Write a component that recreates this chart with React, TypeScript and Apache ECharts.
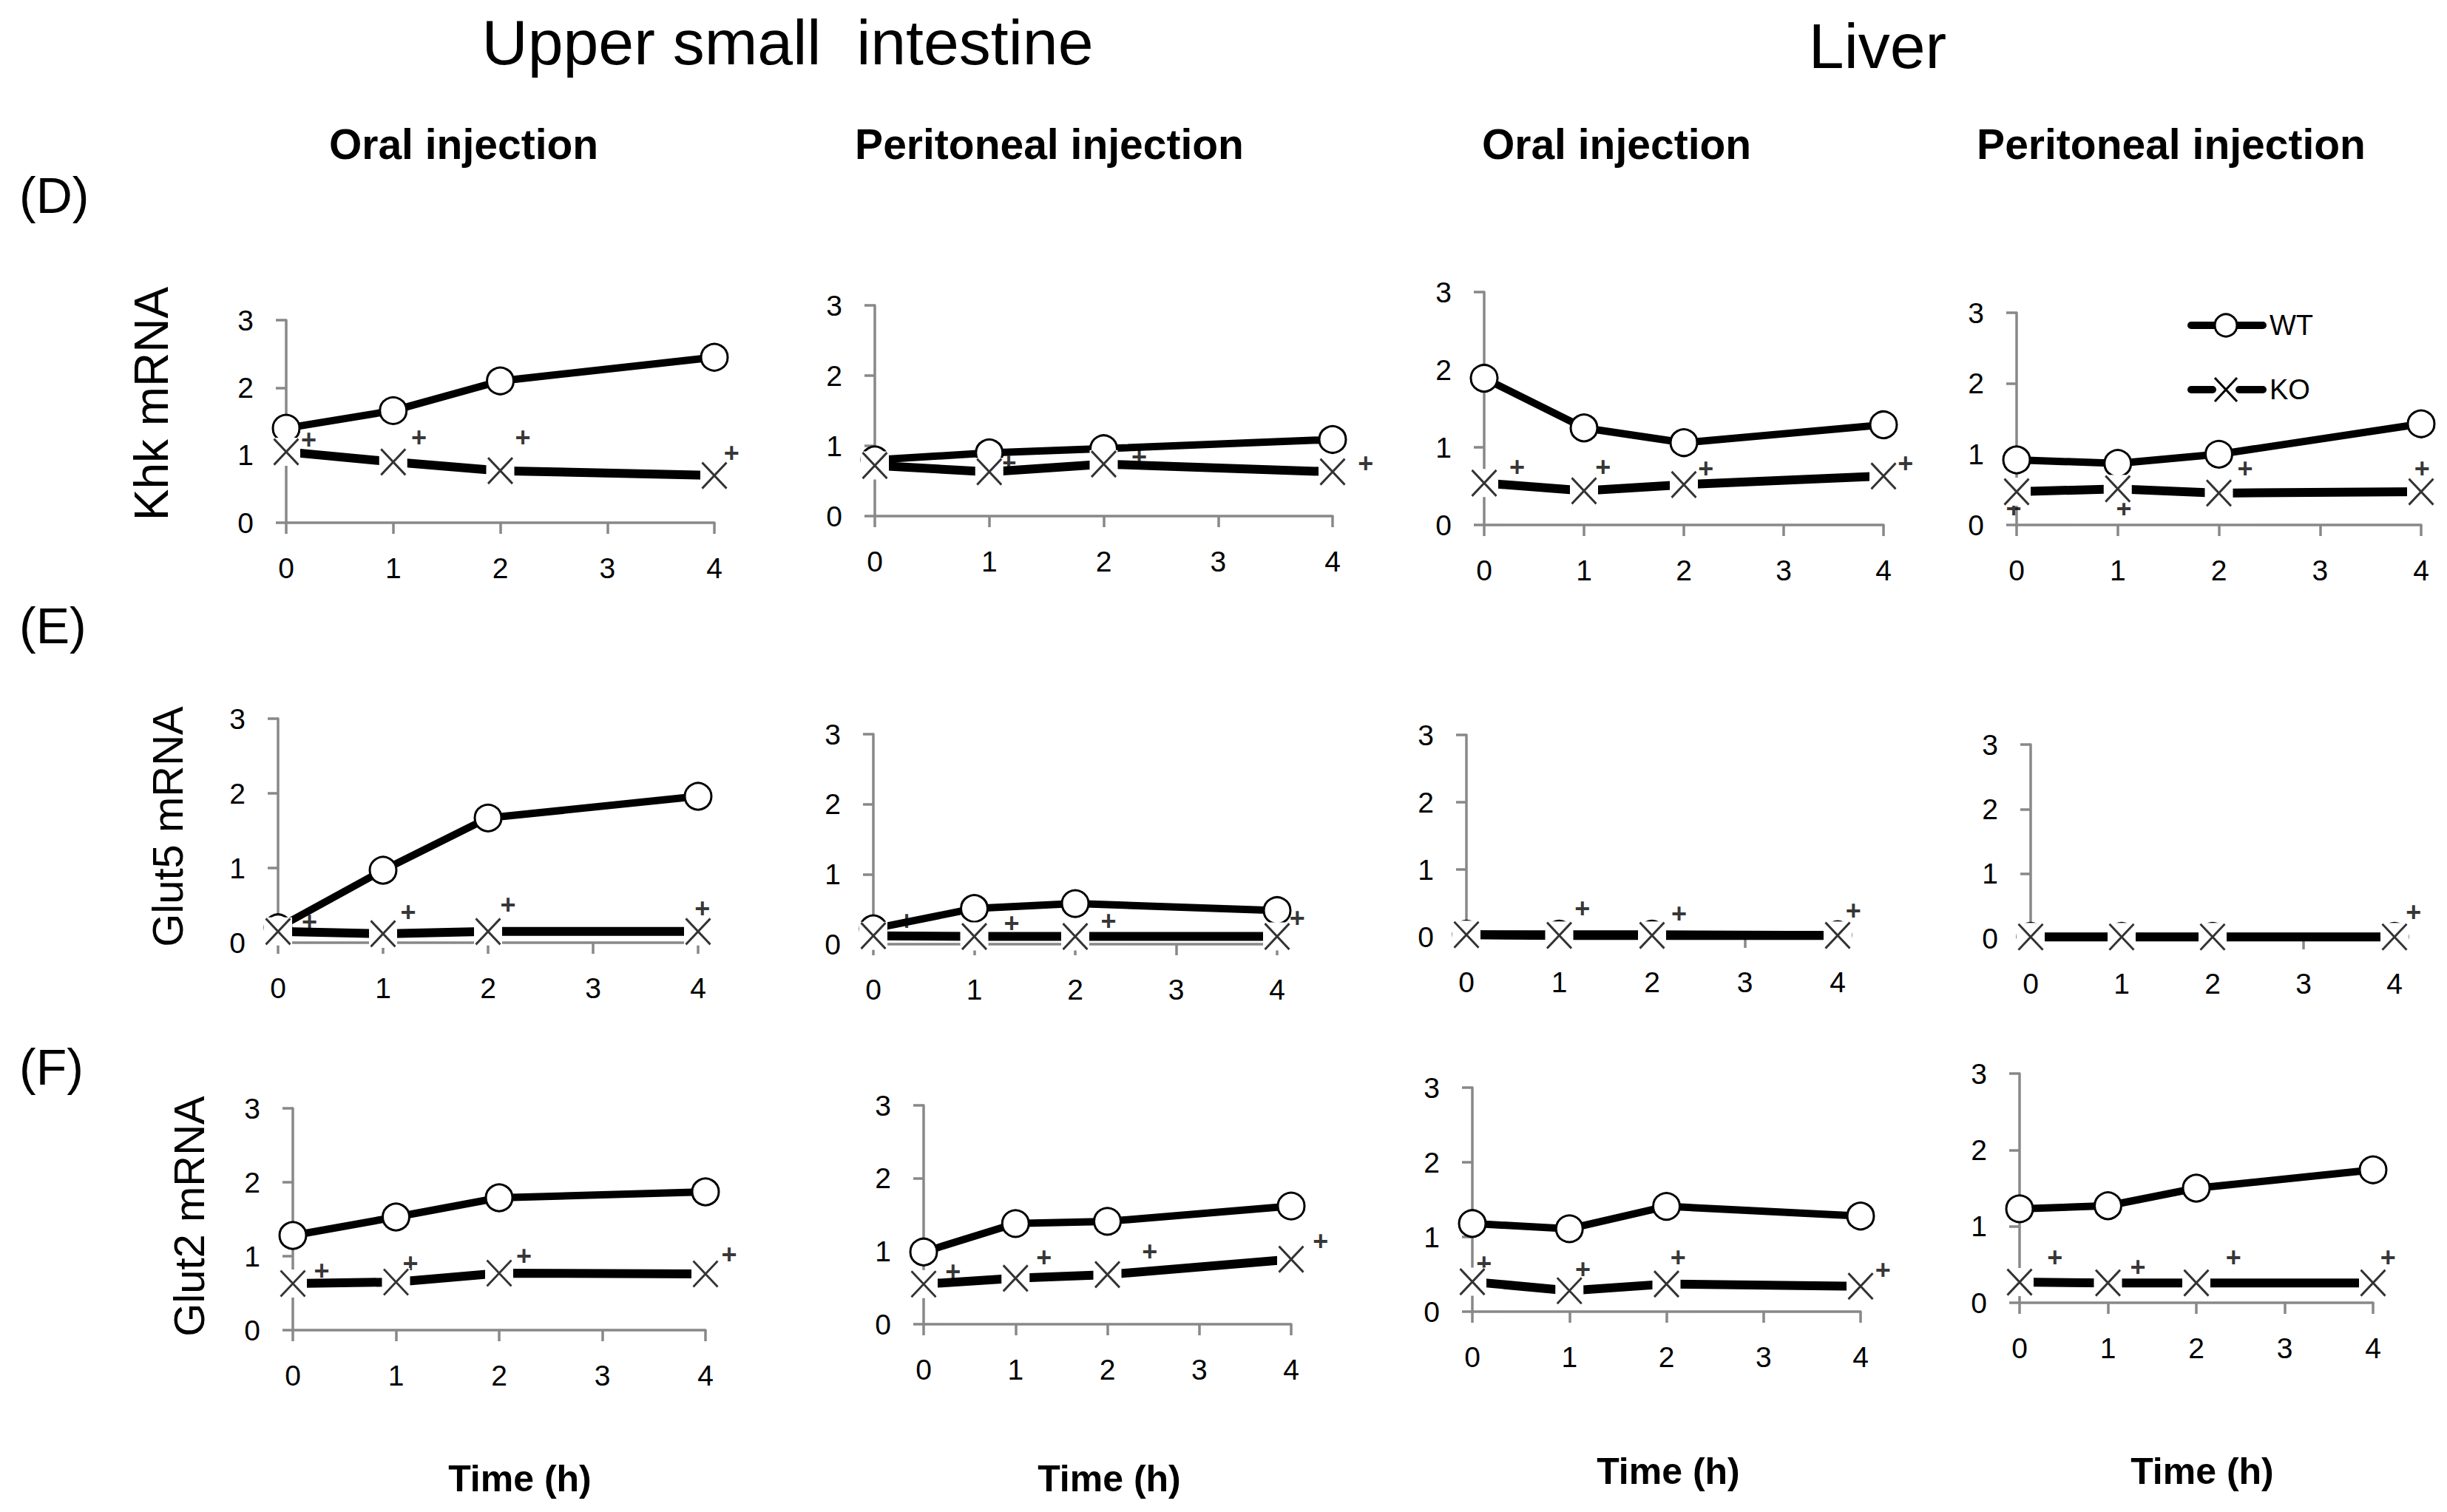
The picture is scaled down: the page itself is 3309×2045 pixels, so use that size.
import React, { useEffect, useRef } from "react";
import * as echarts from "echarts";

// ---------------- data ----------------
const TIMES = [0, 1, 2, 4];
const TISSUES = ["Upper small  intestine", "Liver"];
const ROUTES = ["Oral injection", "Peritoneal injection", "Oral injection", "Peritoneal injection"];
const ROW_LABELS = ["(D)", "(E)", "(F)"];
const GENE_NAMES = ["Khk mRNA", "Glut5 mRNA", "Glut2 mRNA"];
const X_NAME = "Time (h)";
const LEGEND_NAMES = ["WT", "KO"];

// panels order: intestine oral, intestine peritoneal, liver oral, liver peritoneal
const khkWT = [[1.40, 1.66, 2.10, 2.45], [0.80, 0.90, 0.96, 1.09], [1.89, 1.25, 1.06, 1.29], [0.92, 0.87, 1.00, 1.43]];
const khkKO = [[1.05, 0.90, 0.77, 0.70], [0.72, 0.63, 0.74, 0.63], [0.54, 0.44, 0.52, 0.63], [0.47, 0.51, 0.45, 0.47]];
const khkPlus = [
  [[0.21, 1.23], [1.24, 1.26], [2.21, 1.26], [4.16, 1.04]],
  [[1.17, 0.76], [2.31, 0.85], [4.29, 0.75]],
  [[0.33, 0.75], [1.19, 0.75], [2.22, 0.73], [4.22, 0.80]],
  [[-0.03, 0.23], [1.06, 0.24], [2.26, 0.80], [4.01, 0.80]],
];

const glut5WT = [[0.20, 0.97, 1.67, 1.96], [0.22, 0.51, 0.58, 0.48], [0.04, 0.04, 0.04, 0.03], [0.03, 0.03, 0.03, 0.03]];
const glut5KO = [[0.15, 0.12, 0.15, 0.15], [0.12, 0.11, 0.11, 0.11], [0.03, 0.02, 0.02, 0.02], [0.02, 0.02, 0.02, 0.02]];
const glut5Plus = [
  [[0.30, 0.28], [1.24, 0.41], [2.19, 0.51], [4.04, 0.46]],
  [[0.33, 0.33], [1.37, 0.30], [2.33, 0.33], [4.20, 0.37]],
  [[1.25, 0.42], [2.29, 0.35], [4.17, 0.39]],
  [[4.21, 0.41]],
];

const glut2WT = [[1.28, 1.53, 1.79, 1.87], [0.99, 1.38, 1.41, 1.62], [1.18, 1.11, 1.41, 1.28], [1.23, 1.27, 1.50, 1.74]];
const glut2KO = [[0.63, 0.65, 0.77, 0.76], [0.55, 0.63, 0.68, 0.89], [0.40, 0.28, 0.37, 0.34], [0.27, 0.26, 0.26, 0.26]];
const glut2Plus = [
  [[0.28, 0.81], [1.14, 0.91], [2.24, 1.01], [4.23, 1.03]],
  [[0.32, 0.72], [1.31, 0.92], [2.46, 1.00], [4.32, 1.14]],
  [[0.12, 0.65], [1.14, 0.57], [2.12, 0.73], [4.23, 0.56]],
  [[0.40, 0.60], [1.34, 0.47], [2.42, 0.60], [4.17, 0.60]],
];

const ROWS_WT = [khkWT, glut5WT, glut2WT];
const ROWS_KO = [khkKO, glut5KO, glut2KO];
const ROWS_PLUS = [khkPlus, glut5Plus, glut2Plus];

// ---------------- layout (pixels) ----------------
// [x of t=0, x of t=4, y of value 3, y of value 0]
const PANEL_BOX = [
  [[387, 966, 433, 707], [1183, 1802, 413, 698], [2007, 2547, 395, 710], [2727, 3274, 423, 710]],
  [[376, 944, 972, 1275], [1181, 1727, 993, 1277], [1983, 2485, 994, 1267], [2746, 3238, 1007, 1269]],
  [[396, 954, 1499, 1799], [1249, 1746, 1495, 1791], [1991, 2516, 1471, 1774], [2731, 3209, 1452, 1762]],
];

const FONT = "'Liberation Sans', Arial, sans-serif";
const AXIS_GRAY = "#888888";
const X_PATH = "path://M0,0L10,10M10,0L0,10";

function buildOption() {
  const grid: any[] = [];
  const xAxis: any[] = [];
  const yAxis: any[] = [];
  const series: any[] = [];
  let idx = 0;
  for (let r = 0; r < 3; r++) {
    for (let c = 0; c < 4; c++) {
      const [x0, x4, y3, y0] = PANEL_BOX[r][c];
      grid.push({ left: x0, top: y3, width: x4 - x0, height: y0 - y3 });
      const lineStyle = { color: AXIS_GRAY, width: 3.5 };
      xAxis.push({
        type: "value", gridIndex: idx, min: 0, max: 4, interval: 1,
        axisLine: { show: true, onZero: false, lineStyle },
        axisTick: { show: true, length: 15, lineStyle },
        splitLine: { show: false },
        axisLabel: { show: true, margin: 42, fontSize: 39, color: "#000", fontFamily: FONT },
      });
      yAxis.push({
        type: "value", gridIndex: idx, min: 0, max: 3, interval: 1,
        axisLine: { show: true, onZero: false, lineStyle },
        axisTick: { show: true, length: 14, lineStyle },
        splitLine: { show: false },
        axisLabel: { show: true, margin: 44, fontSize: 39, color: "#000", fontFamily: FONT },
      });
      const wt = ROWS_WT[r][c].map((v, i) => [TIMES[i], v]);
      const ko = ROWS_KO[r][c].map((v, i) => [TIMES[i], v]);
      series.push({
        type: "scatter", xAxisIndex: idx, yAxisIndex: idx, z: 1, clip: false,
        data: ROWS_PLUS[r][c], symbol: "circle", symbolSize: 1,
        itemStyle: { color: "rgba(0,0,0,0)" },
        label: { show: true, position: "inside", formatter: "+", fontSize: 36, fontWeight: "bold", color: "#000", fontFamily: FONT },
        silent: true,
      });
      series.push({
        name: "WT", type: "line", xAxisIndex: idx, yAxisIndex: idx, z: 3, data: wt,
        symbol: "circle", symbolSize: 36,
        lineStyle: { color: "#000", width: 10 },
        itemStyle: { color: "#fff", borderColor: "#000", borderWidth: 3 },
      });
      series.push({
        name: "KO", type: "line", xAxisIndex: idx, yAxisIndex: idx, z: 4, data: ko,
        symbol: "rect", symbolSize: 38,
        lineStyle: { color: "#000", width: 12 },
        itemStyle: { color: "#fff", borderWidth: 0 },
      });
      series.push({
        name: "KO marker", type: "scatter", xAxisIndex: idx, yAxisIndex: idx, z: 5, data: ko, clip: false,
        symbol: X_PATH, symbolSize: [33, 35],
        itemStyle: { color: "none", borderColor: "#000", borderWidth: 3 },
      });
      idx++;
    }
  }

  const graphic: any[] = [];
  const txt = (text: string, x: number, y: number, size: number, weight = "normal", align = "center", rotation = 0) => ({
    type: "text", x, y, rotation,
    style: { text, fontSize: size, fontWeight: weight, fontFamily: FONT, fill: "#000", align, verticalAlign: "middle" },
  });
  graphic.push(txt(TISSUES[0], 1065, 57, 86));
  graphic.push(txt(TISSUES[1], 2539, 62, 86));
  const routeX = [627, 1419, 2186, 2936];
  ROUTES.forEach((s, i) => graphic.push(txt(s, routeX[i], 195, 57, "bold")));
  const rowLabelY = [264, 846, 1443];
  ROW_LABELS.forEach((s, i) => graphic.push(txt(s, 26, rowLabelY[i], 68, "normal", "left")));
  const geneX = [205, 226, 255];
  const geneY = [546, 1118, 1645];
  const geneSize = [64, 58, 58];
  GENE_NAMES.forEach((s, i) => graphic.push(txt(s, geneX[i], geneY[i], geneSize[i], "normal", "center", Math.PI / 2)));
  const timeX = [703, 1500, 2256, 2978];
  const timeY = [2000, 2000, 1990, 1990];
  timeX.forEach((x, i) => graphic.push(txt(X_NAME, x, timeY[i], 50, "bold")));

  // legend (in panel D, liver peritoneal)
  const lx0 = 2963, lx1 = 3060, lcx = 3010, wtY = 440, koY = 527;
  graphic.push({ type: "line", shape: { x1: lx0, y1: wtY, x2: lx1, y2: wtY }, style: { stroke: "#000", lineWidth: 10, lineCap: "round" } });
  graphic.push({ type: "circle", shape: { cx: lcx, cy: wtY, r: 15 }, style: { fill: "#fff", stroke: "#000", lineWidth: 3 } });
  graphic.push({ type: "line", shape: { x1: lx0, y1: koY, x2: 2992, y2: koY }, style: { stroke: "#000", lineWidth: 10, lineCap: "round" } });
  graphic.push({ type: "line", shape: { x1: 3028, y1: koY, x2: lx1, y2: koY }, style: { stroke: "#000", lineWidth: 10, lineCap: "round" } });
  graphic.push({ type: "line", shape: { x1: lcx - 15, y1: koY - 16, x2: lcx + 15, y2: koY + 16 }, style: { stroke: "#000", lineWidth: 3 } });
  graphic.push({ type: "line", shape: { x1: lcx + 15, y1: koY - 16, x2: lcx - 15, y2: koY + 16 }, style: { stroke: "#000", lineWidth: 3 } });
  graphic.push(txt(LEGEND_NAMES[0], 3069, wtY, 38, "normal", "left"));
  graphic.push(txt(LEGEND_NAMES[1], 3069, koY, 38, "normal", "left"));

  return {
    animation: false,
    backgroundColor: "#ffffff",
    textStyle: { fontFamily: FONT },
    grid, xAxis, yAxis, series, graphic,
  };
}

export default function App() {
  const ref = useRef<HTMLDivElement>(null);
  useEffect(() => {
    if (!ref.current) return;
    const chart = echarts.init(ref.current, null, { renderer: "svg" });
    chart.setOption(buildOption() as any);
    return () => chart.dispose();
  }, []);
  return (
    <div
      ref={ref}
      style={{ position: "fixed", left: 0, top: 0, width: 3309, height: 2045, background: "#fff" }}
    />
  );
}
